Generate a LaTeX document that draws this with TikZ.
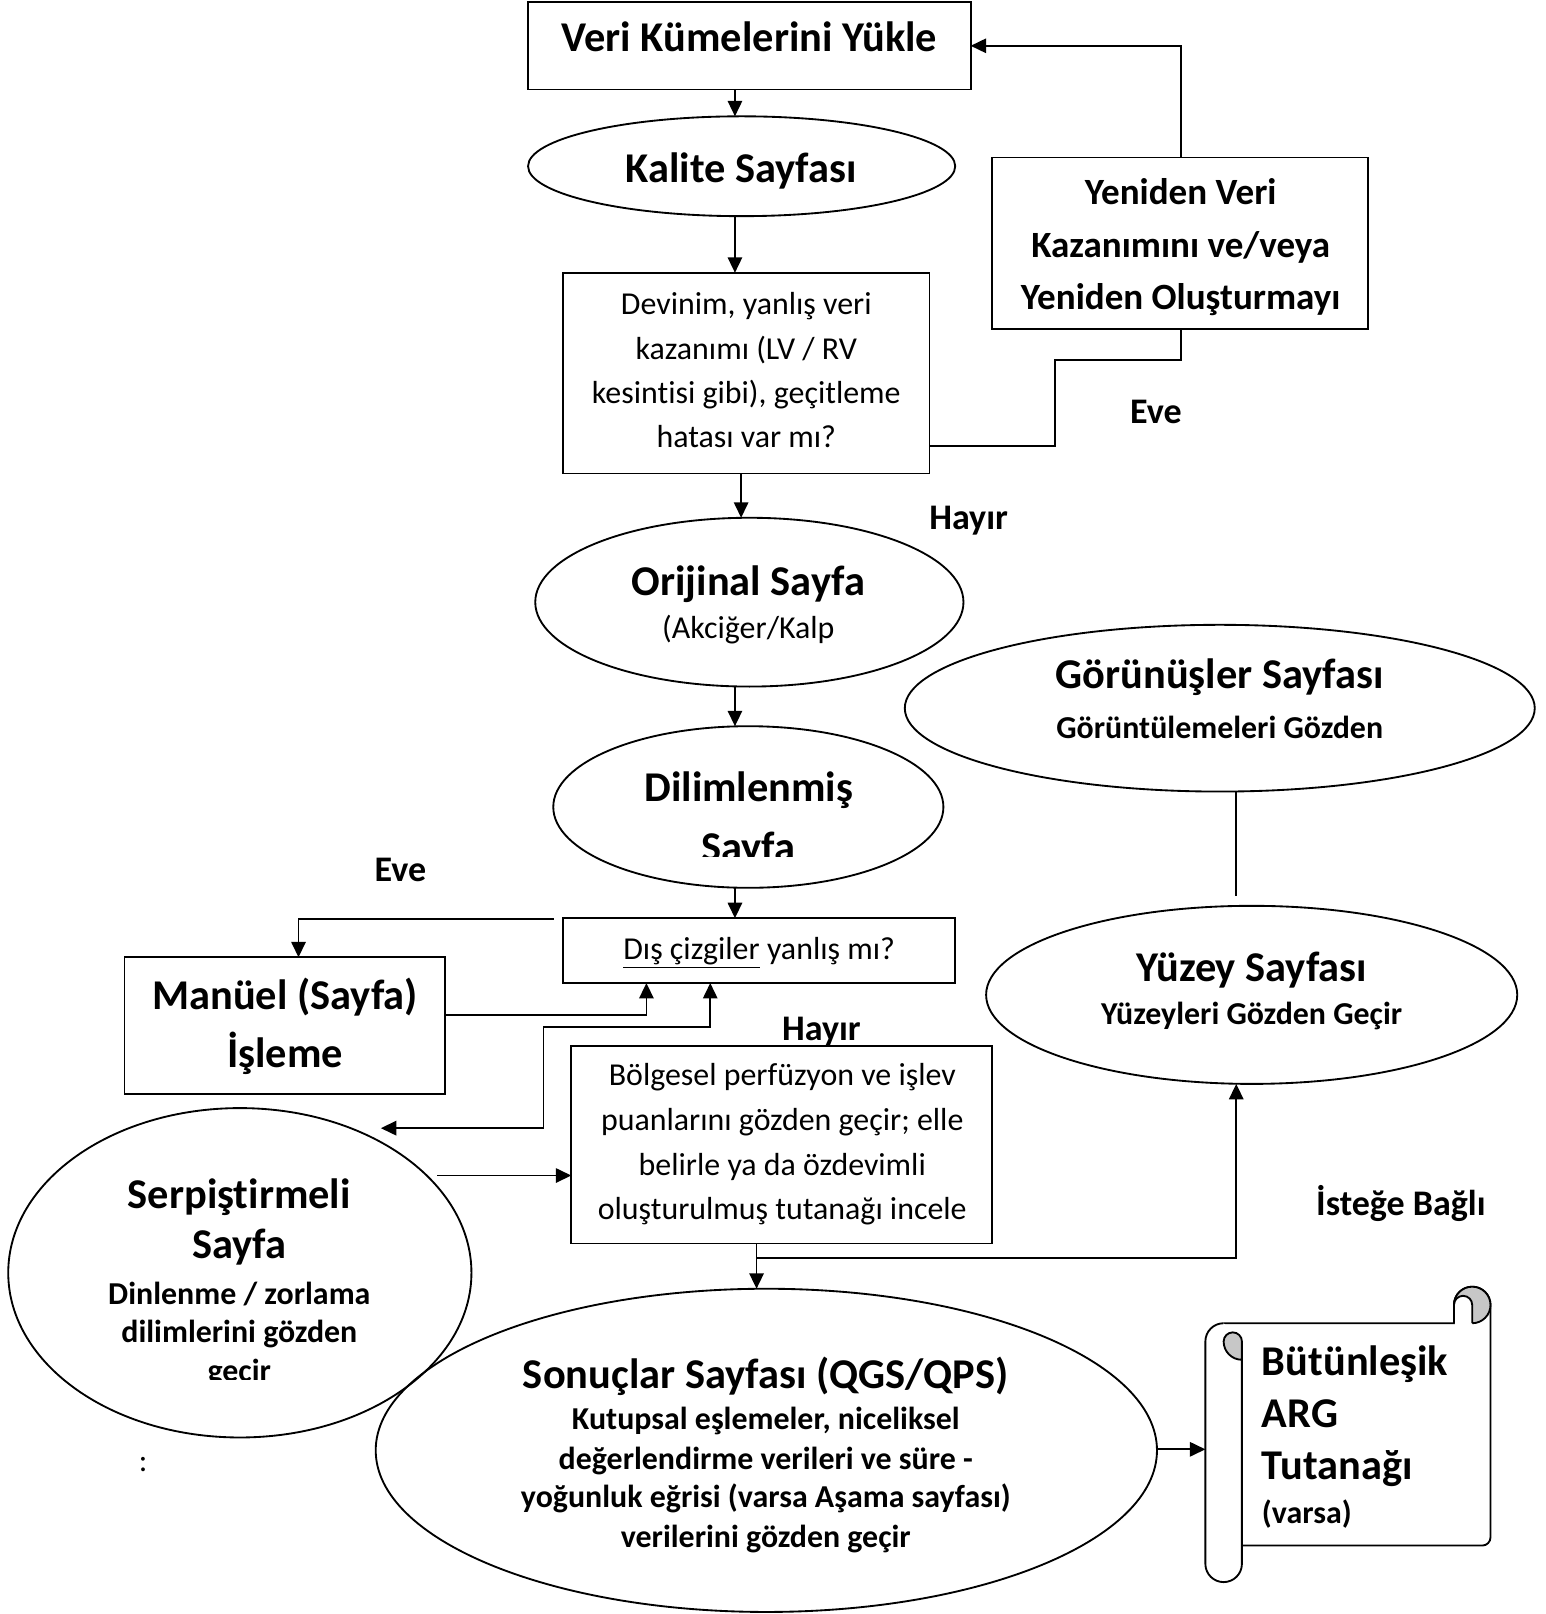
\documentclass[tikz,border=0pt]{standalone}
\usepackage{fontspec}
\setmainfont{Carlito}[Ligatures=NoCommon]
\usetikzlibrary{shapes.geometric,arrows.meta}
\begin{document}
\begin{tikzpicture}[x=0.5pt,y=-0.5pt,
  box/.style={draw,line width=0.9pt,inner sep=0pt,outer sep=0pt},
  oval/.style={draw,ellipse,line width=0.9pt,inner sep=0pt,outer sep=0pt},
  txt/.style={anchor=base,inner sep=0pt,outer sep=0pt},
  big/.style={font=\fontsize{20.6}{24}\selectfont\bfseries},
  med/.style={font=\fontsize{18}{22}\selectfont\bfseries},
  lab/.style={font=\fontsize{17.5}{21}\selectfont\bfseries},
  sub/.style={font=\fontsize{15.5}{19}\selectfont\bfseries},
  reg/.style={font=\fontsize{15.5}{19}\selectfont},
  conn/.style={line width=0.85pt},
  arr/.style={conn,-{Triangle[length=7.5pt,width=7pt]}},
  dbl/.style={conn,{Triangle[length=7.5pt,width=7pt]}-{Triangle[length=7.5pt,width=7pt]}}]
\fill[white] (0,0) rectangle (1501,1568);
\useasboundingbox (0,0) rectangle (1501,1568);

% shapes
\node[box,minimum width=215pt,minimum height=42.5pt] (veri) at (728,44.5) {};
\node[oval,minimum width=207.5pt,minimum height=48.5pt] (kalite) at (720.5,161.5) {};
\node[box,minimum width=178pt,minimum height=97.5pt] (devinim) at (725,362.5) {};
\node[oval,minimum width=208pt,minimum height=82pt] (orijinal) at (728,585) {};
\node[oval,minimum width=189.5pt,minimum height=78.5pt] (dilim) at (727,784) {};
\node[box,minimum width=190.5pt,minimum height=31.5pt] (dis) at (737.5,923.5) {};
\node[box,minimum width=155.5pt,minimum height=66.5pt] (manuel) at (276.5,996.5) {};
\node[box,minimum width=204.5pt,minimum height=96pt] (bolge) at (759.5,1112) {};
\node[box,minimum width=182.5pt,minimum height=83.5pt] (yeniden) at (1146.5,236.5) {};
\node[oval,minimum width=225pt,minimum height=160pt] (serp) at (233,1236.5) {};
\node[oval,minimum width=379.5pt,minimum height=157pt] (sonuc) at (744.5,1409) {};
\node[oval,minimum width=306pt,minimum height=81pt] (gorun) at (1185,688) {};
\node[oval,minimum width=258pt,minimum height=86.5pt] (yuzey) at (1216,966.5) {};

% scroll (Bütünleşik ARG Tutanağı)
\begin{scope}[line width=0.9pt]
\filldraw[fill=white] (1188.75,1285.5) -- (1412.5,1285.5) -- (1412.5,1267.75)
  arc[start angle=180,end angle=0,radius=8.875pt] -- (1448,1493.5)
  arc[start angle=0,end angle=-90,radius=4pt] -- (1206.5,1501.5);
\fill[black!22] (1430.25,1267.75) circle[radius=8.875pt];
\filldraw[fill=white] (1412.5,1285.5) -- (1412.5,1267.75)
  arc[start angle=180,end angle=0,radius=4.4375pt] -- (1430.25,1285.5);
\draw (1412.5,1267.75) arc[start angle=180,end angle=0,radius=8.875pt]
  arc[start angle=0,end angle=-90,radius=8.875pt];
\filldraw[fill=white] (1188.75,1285.5) arc[start angle=90,end angle=180,radius=8.875pt]
  -- (1171,1519.25) arc[start angle=180,end angle=360,radius=8.875pt] -- (1206.5,1303.25);
\filldraw[fill=black!22] (1206.5,1303.25) arc[start angle=0,end angle=180,radius=4.4375pt]
  arc[start angle=180,end angle=270,radius=8.875pt] -- cycle;
\end{scope}
\coordinate (scrollL) at (1171,1408);

% texts
\node[txt,big] (t1) at (728,50) {Veri Kümelerini Yükle};
\node[txt,big] (t2) at (720,177) {Kalite Sayfası};
\node[txt,reg] (t3a) at (725,306) {Devinim, yanlış veri};
\node[txt,reg] (t3b) at (725,349) {kazanımı (LV / RV};
\node[txt,reg] (t3c) at (725,392) {kesintisi gibi), geçitleme};
\node[txt,reg] (t3d) at (725,435) {hatası var mı?};
\node[txt,big] (t4a) at (727,579) {Orijinal Sayfa};
\node[txt,reg] (t4b) at (727,620) {(Akciğer/Kalp};
\node[txt,big] (t5a) at (727.5,779) {Dilimlenmiş};
\begin{scope}
\clip (600,790) rectangle (860,832);
\node[txt,big] (t5b) at (727,837) {Sayfa};
\end{scope}
\node[txt,reg] (t6) at (737.5,932) {\underline{Dış çizgiler} yanlış mı?};
\node[txt,big] (t7a) at (277,981) {Manüel (Sayfa)};
\node[txt,big] (t7b) at (277,1037) {İşleme};
\node[txt,reg] (t8a) at (760,1055) {Bölgesel perfüzyon ve işlev};
\node[txt,reg] (t8b) at (760,1098) {puanlarını gözden geçir; elle};
\node[txt,reg] (t8c) at (760,1142) {belirle ya da özdevimli};
\node[txt,reg] (t8d) at (760,1185) {oluşturulmuş tutanağı incele};
\node[txt,med] (t9a) at (1147,199) {Yeniden Veri};
\node[txt,med] (t9b) at (1147,250) {Kazanımını ve/veya};
\node[txt,med] (t9c) at (1147,301) {Yeniden Oluşturmayı};
\node[txt,big] (t10a) at (232.5,1174) {Serpiştirmeli};
\node[txt,big] (t10b) at (232.5,1223) {Sayfa};
\node[txt,sub] (t10c) at (232.5,1267) {Dinlenme / zorlama};
\node[txt,sub] (t10d) at (232.5,1304) {dilimlerini gözden};
\begin{scope}
\clip (120,1310) rectangle (340,1340);
\node[txt,sub] (t10e) at (232.5,1342) {geçir};
\end{scope}
\node[txt,big] (t11a) at (744,1349) {Sonuçlar Sayfası (QGS/QPS)};
\node[txt,sub] (t11b) at (744,1389) {Kutupsal eşlemeler, niceliksel};
\node[txt,sub] (t11c) at (744,1428) {değerlendirme verileri ve süre -};
\node[txt,sub] (t11d) at (744,1465) {yoğunluk eğrisi (varsa Aşama sayfası)};
\node[txt,sub] (t11e) at (744,1503) {verilerini gözden geçir};
\node[txt,big] (t12a) at (1185,669) {Görünüşler Sayfası};
\node[txt,sub] (t12b) at (1185,717) {Görüntülemeleri Gözden};
\node[txt,big] (t13a) at (1216,954) {Yüzey Sayfası};
\node[txt,sub] (t13b) at (1216,995) {Yüzeyleri Gözden Geçir};
\node[txt,big,anchor=base west] (t14a) at (1226,1336) {Bütünleşik};
\node[txt,big,anchor=base west] (t14b) at (1226,1387) {ARG};
\node[txt,big,anchor=base west] (t14c) at (1226,1437) {Tutanağı};
\node[txt,sub,anchor=base west] (t14d) at (1226,1480) {(varsa)};
\node[txt,lab] (l1) at (1123,411) {Eve};
\node[txt,lab] (l2) at (941,514) {Hayır};
\node[txt,lab] (l3) at (389,856) {Eve};
\node[txt,lab] (l4) at (798,1011) {Hayır};
\node[txt,lab] (l5) at (1361,1181) {İsteğe Bağlı};
\node[txt,reg] (l6) at (139,1430) {:};

% connectors
\coordinate (c714) at (714,0);
\coordinate (c720) at (720,0);
\coordinate (c690) at (690,0);
\coordinate (c290) at (290,0);
\coordinate (c735) at (735,0);
\coordinate (c1201) at (1201,0);
\draw[arr] (veri.south -| c714) -- (kalite.north -| c714);
\draw[arr] (kalite.south -| c714) -- (devinim.north -| c714);
\draw[arr] (devinim.south -| c720) -- (orijinal.north -| c720);
\draw[arr] (orijinal.south -| c714) -- (dilim.north -| c714);
\draw[arr] (dilim.south -| c714) -- (dis.north -| c714);
\coordinate (eveStart) at (538,893);
\draw[arr] (eveStart) -| (manuel.north -| c290);
\coordinate (m1) at (628,986);
\draw[arr] (manuel.east |- m1) -- (m1) -- (m1 |- dis.south);
\coordinate (k1) at (528,998);
\coordinate (k2) at (370,1096);
\draw[dbl] (dis.south -| c690) |- (k1) |- (k2);
\coordinate (s1) at (425,1142);
\draw[arr] (s1) -- (s1 -| bolge.west);
\draw[arr] (bolge.south -| c735) -- (sonuc.north -| c735);
\coordinate (j1) at (735,1222);
\draw[arr] (j1) -| (yuzey.south -| c1201);
\coordinate (g1) at (1201,870);
\draw[conn] (gorun.south -| c1201) -- (g1);
\draw[arr] (sonuc.east |- scrollL) -- (scrollL);
\coordinate (r1) at (1025,433);
\coordinate (r2) at (1147,350);
\draw[conn] (devinim.east |- r1) -- (r1) |- (r2) -- (r2 |- yeniden.south);
\draw[arr] (yeniden.north -| r2) |- (veri.east);
\end{tikzpicture}
\end{document}
